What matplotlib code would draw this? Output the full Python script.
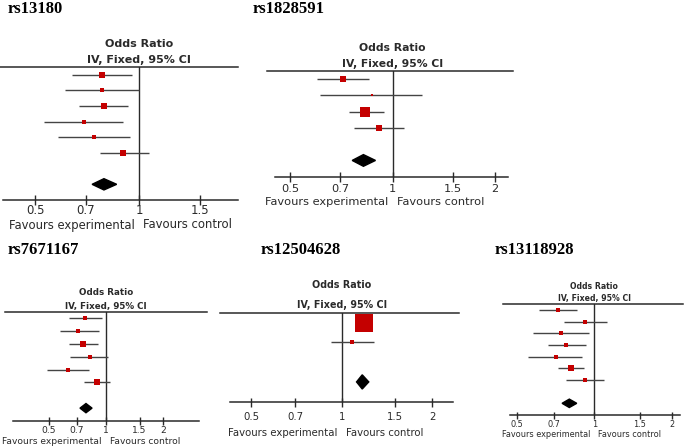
import numpy as np
import matplotlib.pyplot as plt
from matplotlib.patches import Polygon

# odds ratios (study rows, then pooled estimate)
rs13180_or = [0.78, 0.78, 0.79, 0.69, 0.74, 0.90]
rs13180_lo = [0.64, 0.61, 0.67, 0.53, 0.58, 0.77]
rs13180_hi = [0.95, 1.00, 0.93, 0.90, 0.94, 1.07]
rs13180_w = [19, 9, 28, 7, 9, 28]
rs13180_pooled = [0.79, 0.73, 0.86]

rs1828591_or = [0.715, 0.87, 0.83, 0.91]
rs1828591_lo = [0.60, 0.61, 0.745, 0.77]
rs1828591_hi = [0.85, 1.22, 0.94, 1.08]
rs1828591_w = [17, 4, 55, 24]
rs1828591_pooled = [0.82, 0.76, 0.89]

rs7671167_or = [0.78, 0.715, 0.76, 0.82, 0.63, 0.90]
rs7671167_lo = [0.64, 0.57, 0.64, 0.65, 0.49, 0.77]
rs7671167_hi = [0.95, 0.915, 0.905, 1.03, 0.81, 1.045]
rs7671167_w = [18, 11, 23, 11, 11, 27]
rs7671167_pooled = [0.785, 0.73, 0.845]

rs12504628_or = [1.19, 1.085]
rs12504628_lo = [1.12, 0.92]
rs12504628_hi = [1.26, 1.28]
rs12504628_w = [96, 4]
rs12504628_pooled = [1.17, 1.12, 1.23]

rs13118928_or = [0.72, 0.92, 0.74, 0.78, 0.71, 0.81, 0.92]
rs13118928_lo = [0.61, 0.76, 0.58, 0.66, 0.555, 0.72, 0.78]
rs13118928_hi = [0.86, 1.12, 0.95, 0.93, 0.90, 0.915, 1.09]
rs13118928_w = [16, 9, 9, 20, 9, 29, 9]
rs13118928_pooled = [0.80, 0.75, 0.855]

tick_vals = [0.5, 0.7, 1, 1.5, 2]
tick_labels = ['0.5', '0.7', '1', '1.5', '2']

W, H = 685, 448
BOX = '#c40000'
INK = '#2a2a2a'
CI = '#444444'

# layout in pixels: top line x-range, axis x-range, top/bottom y, px per ln unit, x of OR=1
panels = [
    dict(name='rs13180', title=(8, 9), data=(rs13180_or, rs13180_lo, rs13180_hi, rs13180_w, rs13180_pooled),
         line=(0, 238), axis=(3, 238), top=66.7, bottom=200, k=150, x1=139.3,
         box=1.25, fs=8.4, hdr=(22.7, 6.7), tk=11, fav=25, tlen=10),
    dict(name='rs1828591', title=(253, 9), data=(rs1828591_or, rs1828591_lo, rs1828591_hi, rs1828591_w, rs1828591_pooled),
         line=(266.7, 513), axis=(275, 508), top=71, bottom=176.7, k=147.6, x1=392.7,
         box=1.3, fs=8.2, hdr=(23, 7), tk=12.3, fav=25.3, tlen=10),
    dict(name='rs7671167', title=(8, 250), data=(rs7671167_or, rs7671167_lo, rs7671167_hi, rs7671167_w, rs7671167_pooled),
         line=(5, 207), axis=(13, 199), top=311.7, bottom=421, k=82.7, x1=106,
         box=1.12, fs=6.6, hdr=(19, 5.7), tk=9, fav=20, tlen=8),
    dict(name='rs12504628', title=(261, 250), data=(rs12504628_or, rs12504628_lo, rs12504628_hi, rs12504628_w, rs12504628_pooled),
         line=(220, 459.3), axis=(230, 453.3), top=312.7, bottom=401.7, k=130.8, x1=341.7,
         box=1.8, fs=7.3, hdr=(27.7, 7.7), tk=15, fav=31.6, tlen=9),
    dict(name='rs13118928', title=(495, 250), data=(rs13118928_or, rs13118928_lo, rs13118928_hi, rs13118928_w, rs13118928_pooled),
         line=(503.3, 683), axis=(510, 680), top=304, bottom=415, k=112, x1=594.3,
         box=1.1, fs=5.9, hdr=(17.3, 5.7), tk=9.3, fav=19.3, tlen=7),
]

fig = plt.figure(figsize=(W / 100, H / 100), dpi=100)

for p in panels:
    ors, los, his, ws, pooled = p['data']
    l, r = p['line']
    ax = fig.add_axes([l / W, 1 - p['bottom'] / H, (r - l) / W, (p['bottom'] - p['top']) / H])
    to_or = lambda px: np.exp((px - p['x1']) / p['k'])
    ax.set_xscale('log')
    ax.set_xlim(to_or(l), to_or(r))
    n = len(ors)
    ax.set_ylim(n + 2, -0.5)
    rows = np.arange(n)

    ax.axvline(1, color=INK, lw=1.0, zorder=1)
    ax.hlines(rows, los, his, color=CI, lw=1.0, zorder=2)
    for i in range(n):
        side = p['box'] * np.sqrt(ws[i])
        ax.plot(ors[i], rows[i], 's', ms=side * 0.72, color=BOX, mew=0, zorder=3)

    est, plo, phi = pooled
    yd, hh = n + 1, 0.36
    ax.add_patch(Polygon([(plo, yd), (est, yd - hh), (phi, yd), (est, yd + hh)],
                         closed=True, color='black', zorder=3))

    for s in ['left', 'right']:
        ax.spines[s].set_visible(False)
    ax.spines['top'].set_color(INK)
    ax.spines['top'].set_linewidth(1.1)
    ax.spines['bottom'].set_color(INK)
    ax.spines['bottom'].set_linewidth(1.1)
    ax.spines['bottom'].set_bounds(to_or(p['axis'][0]), to_or(p['axis'][1]))
    ax.set_yticks([])
    lo_b, hi_b = to_or(p['axis'][0]), to_or(p['axis'][1])
    tv = [t for t in tick_vals if lo_b <= t <= hi_b]
    tl = [tick_labels[tick_vals.index(t)] for t in tv]
    ax.set_xticks(tv)
    ax.set_xticklabels([])
    ax.minorticks_off()
    ax.tick_params(axis='x', direction='inout', length=p['tlen'] * 0.72, width=1.0, color=INK)

    fs = p['fs']
    for t, lab in zip(tv, tl):
        ax.annotate(lab, (t, 0), xycoords=('data', 'axes fraction'), xytext=(0, -p['tk']),
                    textcoords='offset pixels', ha='center', va='center', fontsize=fs, color=INK)
    ax.annotate('Favours experimental', (1, 0), xycoords=('data', 'axes fraction'),
                xytext=(-4, -p['fav']), textcoords='offset pixels', ha='right', va='center',
                fontsize=fs, color=INK)
    ax.annotate('Favours control', (1, 0), xycoords=('data', 'axes fraction'),
                xytext=(4, -p['fav']), textcoords='offset pixels', ha='left', va='center',
                fontsize=fs, color=INK)
    ax.annotate('Odds Ratio', (1, 1), xycoords=('data', 'axes fraction'),
                xytext=(0, p['hdr'][0]), textcoords='offset pixels', ha='center', va='center',
                fontsize=fs * 0.95, fontweight='bold', color=INK)
    ax.annotate('IV, Fixed, 95% CI', (1, 1), xycoords=('data', 'axes fraction'),
                xytext=(0, p['hdr'][1]), textcoords='offset pixels', ha='center', va='center',
                fontsize=fs * 0.95, fontweight='bold', color=INK)

    tx, ty = p['title']
    fig.text(tx / W, 1 - ty / H, p['name'], family='Liberation Serif', fontweight='bold',
             fontsize=12, ha='left', va='center')

fig.savefig('out.png', dpi=100)
